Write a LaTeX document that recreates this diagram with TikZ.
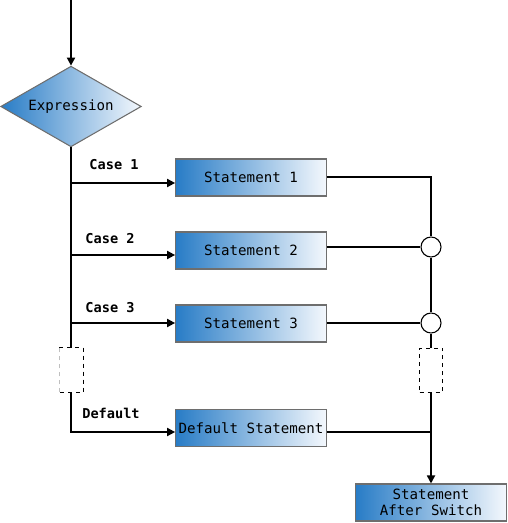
\documentclass[tikz,border=0pt]{standalone}
\usepackage{fontspec}
\setmonofont{DejaVu Sans Mono}
\usetikzlibrary{shapes.geometric,arrows.meta}
\definecolor{gblue}{RGB}{40,124,198}
\definecolor{gwhite}{RGB}{244,248,253}
\definecolor{bordergray}{RGB}{110,110,110}
\tikzset{
  grad/.style={left color=gblue, right color=gwhite, draw=bordergray, line width=0.8pt},
  stmt/.style={grad, rectangle, minimum width=113pt, minimum height=27.75pt, inner sep=1pt,
    font=\ttfamily\fontsize{10.6}{12.5}\selectfont, align=center},
  lbl/.style={font=\ttfamily\bfseries\fontsize{10.2}{12}\selectfont, inner sep=0pt},
  conn/.style={line width=1.3pt},
  arr/.style={conn, -{Triangle[width=6pt,length=6pt]}},
  dbox/.style={rectangle, draw, dashed, line width=0.7pt, minimum width=17.25pt, minimum height=33pt, inner sep=0pt, fill=white},
  joint/.style={circle, draw, line width=0.8pt, fill=white, minimum size=15pt, inner sep=0pt}
}
\begin{document}
\begin{tikzpicture}[x=0.75pt,y=-0.75pt]
\useasboundingbox (0,0) rectangle (507,523);
% nodes
\node[grad, diamond, aspect=1.74, minimum width=105.5pt, minimum height=60.5pt, inner sep=0pt,
  font=\ttfamily\fontsize{10.6}{12}\selectfont] (expr) at (71,106.5) {Expression};
\coordinate (top) at (71,0);
\node[stmt] (s1) at (251,177.5) {Statement 1};
\node[stmt] (s2) at (251,250.5) {Statement 2};
\node[stmt] (s3) at (251,323.5) {Statement 3};
\node[stmt] (sd) at (251,428) {Default Statement};
\node[stmt] (sa) at (431,502.5) {Statement\\After Switch};
\node[dbox, draw=none] (dl) at (71,370) {};
\node[dbox] (dr) at (431,370) {};
\node[joint] (o2) at (431,247) {};
\node[joint] (o3) at (431,323) {};
\node[lbl] (l1) at (114,165) {Case 1};
\node[lbl] (l2) at (110,239) {Case 2};
\node[lbl] (l3) at (110,308) {Case 3};
\node[lbl] (ld) at (111,413) {Default};
\coordinate (c1) at (71,183);
\coordinate (c2) at (71,255);
\coordinate (c3) at (71,323);
\coordinate (cd) at (71,432);
\coordinate (r1) at (431,177);
\coordinate (rd) at (431,432);
% left dashed box sides
\draw[dashed, line width=0.7pt] (dl.north west) -- (dl.north east) -- (dl.south east) -- (dl.south west);
\draw[dashed, line width=0.7pt, black!25] (dl.south west) -- (dl.north west);
% connectors
\draw[arr] (top) -- (expr.north);
\draw[conn] (expr.south) -- (dl.north);
\draw[arr] (dl.south) -- (cd) -- (sd.west |- cd);
\draw[arr] (c1) -- (s1.west |- c1);
\draw[arr] (c2) -- (s2.west |- c2);
\draw[arr] (c3) -- (s3.west |- c3);
\draw[conn] (s1.east |- r1) -- (r1) -- (o2.north);
\draw[conn] (s2.east |- o2) -- (o2.west);
\draw[conn] (o2.south) -- (o3.north);
\draw[conn] (s3.east |- o3) -- (o3.west);
\draw[conn] (o3.south) -- (dr.north);
\draw[arr] (dr.south) -- (sa.north);
\draw[conn] (sd.east |- rd) -- (rd);
\end{tikzpicture}
\end{document}
